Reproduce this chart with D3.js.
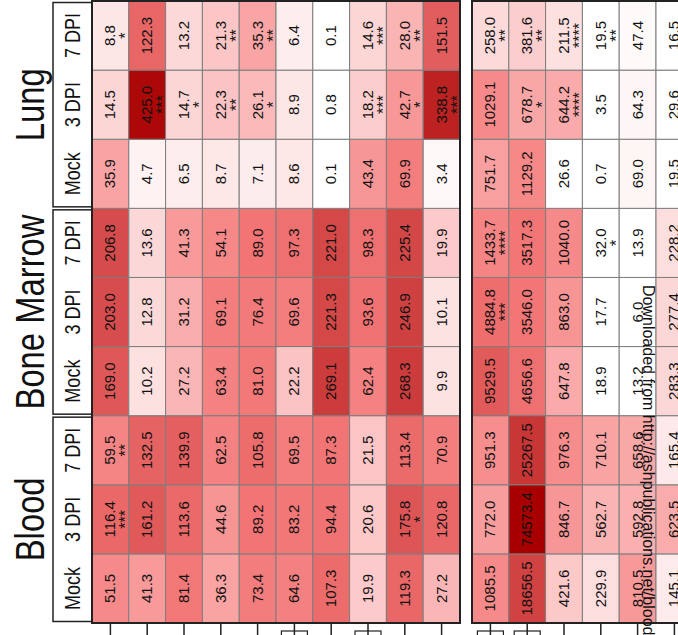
<!DOCTYPE html>
<html>
<head>
<meta charset="utf-8">
<script src="https://cdn.jsdelivr.net/npm/d3@7"></script>
<style>
  body { margin: 0; background: #fff; }
  svg { display: block; font-family: "Liberation Sans", Arial, sans-serif; }
</style>
</head>
<body>
<script>
// conditions, bottom to top in the picture (Blood Mock first)
const tissues = ["Blood", "Bone Marrow", "Lung"];
const timepoints = ["Mock", "3 DPI", "7 DPI"];

// left panel: each row = one gene, 9 values (Blood M/3/7, BM M/3/7, Lung M/3/7)
const panelA = [
  [51.5, 116.4, 59.5, 169.0, 203.0, 206.8, 35.9, 14.5, 8.8],
  [41.3, 161.2, 132.5, 10.2, 12.8, 13.6, 4.7, 425.0, 122.3],
  [81.4, 113.6, 139.9, 27.2, 31.2, 41.3, 6.5, 14.7, 13.2],
  [36.3, 44.6, 62.5, 63.4, 69.1, 54.1, 8.7, 22.3, 21.3],
  [73.4, 89.2, 105.8, 81.0, 76.4, 89.0, 7.1, 26.1, 35.3],
  [64.6, 83.2, 69.5, 22.2, 69.6, 97.3, 8.6, 8.9, 6.4],
  [107.3, 94.4, 87.3, 269.1, 221.3, 221.0, 0.1, 0.8, 0.1],
  [19.9, 20.6, 21.5, 62.4, 93.6, 98.3, 43.4, 18.2, 14.6],
  [119.3, 175.8, 113.4, 268.3, 246.9, 225.4, 69.9, 42.7, 28.0],
  [27.2, 120.8, 70.9, 9.9, 10.1, 19.9, 3.4, 338.8, 151.5]
];
const starsA = [
  ["", "***", "**", "", "", "", "", "", "*"],
  ["", "", "", "", "", "", "", "***", ""],
  ["", "", "", "", "", "", "", "*", ""],
  ["", "", "", "", "", "", "", "**", "**"],
  ["", "", "", "", "", "", "", "*", "**"],
  ["", "", "", "", "", "", "", "", ""],
  ["", "", "", "", "", "", "", "", ""],
  ["", "", "", "", "", "", "", "***", "***"],
  ["", "*", "", "", "", "", "", "*", "**"],
  ["", "", "", "", "", "", "", "***", ""]
];

// right panel
const panelB = [
  [1085.5, 772.0, 951.3, 9529.5, 4884.8, 1433.7, 751.7, 1029.1, 258.0],
  [18656.5, 74573.4, 25267.5, 4656.6, 3546.0, 3517.3, 1129.2, 678.7, 381.6],
  [421.6, 846.7, 976.3, 647.8, 863.0, 1040.0, 26.6, 644.2, 211.5],
  [229.9, 562.7, 710.1, 18.9, 17.7, 32.0, 0.7, 3.5, 19.5],
  [810.5, 592.8, 658.6, 13.2, 6.0, 13.9, 69.0, 64.3, 47.4],
  [145.1, 623.5, 165.4, 283.3, 277.4, 228.2, 19.5, 29.6, 16.5]
];
const starsB = [
  ["", "", "", "", "***", "****", "", "", "**"],
  ["", "", "", "", "", "", "", "*", "**"],
  ["", "", "", "", "", "", "", "****", "****"],
  ["", "", "", "", "", "*", "", "", "**"],
  ["", "", "", "", "", "", "", "", ""],
  ["", "", "", "", "", "", "", "", ""]
];

// genes that have a little box under their leaf tick
const boxedA = [5, 7];
const boxedB = [0, 1];

const W = 678, H = 635;
const svg = d3.select("body").append("svg").attr("width", W).attr("height", H);

const ramp = ["#ffffff", "#fdeaea", "#fccaca", "#f9a3a3", "#f68a8a", "#f27474", "#e05a5a", "#cc3c3c", "#a80000"];
const colorA = d3.scaleLinear().domain([0.3, 0.9, 1.3, 1.56, 1.71, 1.95, 2.21, 2.43, 2.66]).range(ramp).clamp(true);
const colorB = d3.scaleLinear().domain([1.5, 2.2, 2.62, 2.85, 3.0, 3.6, 4.0, 4.35, 4.87]).range(ramp).clamp(true);

// conditions run bottom (0 = Blood Mock) to top (8 = Lung 7 DPI)
const cond = d3.scaleBand().domain(d3.range(9).reverse()).range([1, 623]);
const cellW = (460 - 92) / 10;
const geneA = d3.scaleBand().domain(d3.range(panelA.length)).range([92, 460]);
const geneB = d3.scaleBand().domain(d3.range(panelB.length)).range([472, 472 + cellW * panelB.length]);

const fmt = d3.format(".1f");

function drawPanel(values, stars, x, color, boxed) {
  const g = svg.append("g");
  const cells = values.flatMap((row, i) => row.map((v, j) => ({ i, j, v, s: stars[i][j] })));

  g.selectAll("rect.cell")
    .data(cells)
    .join("rect")
    .attr("class", "cell")
    .attr("x", d => x(d.i))
    .attr("y", d => cond(d.j))
    .attr("width", x.bandwidth())
    .attr("height", cond.bandwidth())
    .attr("fill", d => color(Math.log10(d.v)))
    .attr("stroke", "#7d7d7d")
    .attr("stroke-width", 1);

  const lab = g.selectAll("g.lab")
    .data(cells)
    .join("g")
    .attr("class", "lab")
    .attr("transform", d => `translate(${x(d.i) + x.bandwidth() / 2},${cond(d.j) + cond.bandwidth() / 2}) rotate(-90)`);

  lab.append("text")
    .attr("text-anchor", "middle")
    .attr("y", 5)
    .style("font-size", "15px")
    .attr("fill", "#111")
    .text(d => fmt(d.v));

  lab.filter(d => d.s)
    .append("text")
    .attr("text-anchor", "middle")
    .attr("y", 21)
    .style("font-size", "16px")
    .attr("fill", "#111")
    .text(d => d.s);

  // frame
  const [x0, x1] = x.range();
  g.append("rect")
    .attr("x", x0).attr("y", cond.range()[0])
    .attr("width", x1 - x0).attr("height", cond.range()[1] - cond.range()[0])
    .attr("fill", "none").attr("stroke", "#222").attr("stroke-width", 2);

  // leaf ticks of the dendrogram below
  g.selectAll("line.tick")
    .data(values.map((_, i) => i))
    .join("line")
    .attr("x1", i => x(i) + x.bandwidth() / 2)
    .attr("x2", i => x(i) + x.bandwidth() / 2)
    .attr("y1", 624).attr("y2", H)
    .attr("stroke", "#222").attr("stroke-width", 1.5);

  g.selectAll("rect.box")
    .data(boxed)
    .join("rect")
    .attr("x", i => x(i) + x.bandwidth() / 2 - 13)
    .attr("y", 631)
    .attr("width", 26).attr("height", 20)
    .attr("fill", "none").attr("stroke", "#222").attr("stroke-width", 1.2);
}

drawPanel(panelA, starsA, geneA, colorA, boxedA);
drawPanel(panelB, starsB, geneB, colorB, boxedB);

// header boxes per tissue, with timepoint labels
tissues.forEach((t, ti) => {
  const top = cond(ti * 3 + 2), bottom = cond(ti * 3) + cond.bandwidth();
  svg.append("rect")
    .attr("x", 53).attr("y", top + 1.5)
    .attr("width", 39).attr("height", bottom - top - 3)
    .attr("fill", "none").attr("stroke", "#222").attr("stroke-width", 1.5);

  timepoints.forEach((tp, k) => {
    const j = ti * 3 + k;
    svg.append("text")
      .attr("transform", `translate(80,${cond(j) + cond.bandwidth() / 2}) rotate(-90) scale(0.82,1)`)
      .attr("text-anchor", "middle")
      .style("font-size", "22px")
      .attr("fill", "#111")
      .text(tp);
  });

  svg.append("text")
    .attr("transform", `translate(44,${(top + bottom) / 2}) rotate(-90) scale(0.82,1)`)
    .attr("text-anchor", "middle")
    .style("font-size", "40px")
    .attr("fill", "#111")
    .text(t);
});

// source watermark
svg.append("text")
  .attr("transform", "translate(643,285) rotate(90)")
  .style("font-size", "16px")
  .attr("fill", "#111")
  .text("Downloaded from http://ashpublications.net/blood by guest");
</script>
</body>
</html>
